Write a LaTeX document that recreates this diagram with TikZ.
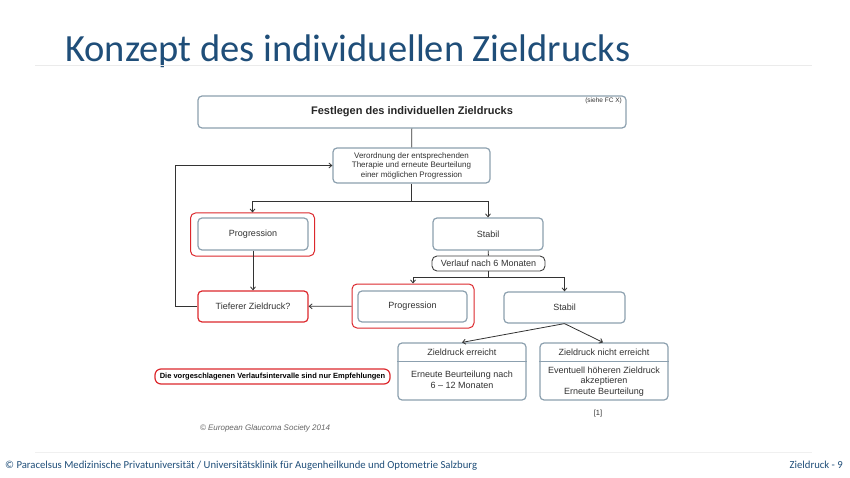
\documentclass[tikz,border=0pt]{standalone}
\usepackage{fontspec}
\setmainfont{Liberation Sans}
\newfontfamily\slidefont{Carlito}
\usetikzlibrary{arrows.meta}
\definecolor{titleblue}{RGB}{31,78,121}
\definecolor{boxgray}{RGB}{140,160,175}
\definecolor{markred}{RGB}{220,40,45}
\definecolor{txtgray}{RGB}{50,50,50}
\begin{document}
\begin{tikzpicture}[x=1pt,y=-1pt,
  box/.style={draw=boxgray, line width=1.2pt, rounded corners=4pt, align=center, text=txtgray, font=\fontsize{9}{10.5}\selectfont, inner sep=0pt},
  redbox/.style={draw=markred, line width=1pt, rounded corners=5pt, inner sep=0pt},
  plain/.style={inner sep=0pt, align=center, text=txtgray, font=\fontsize{9}{10.5}\selectfont},
  link/.style={draw=black!80, line width=0.8pt},
  arr/.style={link, -{Straight Barb[length=3pt,width=5pt]}}]
\useasboundingbox (0,0) rectangle (850,478);
\fill[white] (0,0) rectangle (850,478);
% slide frame
\node[anchor=base west, inner sep=0pt, text=titleblue, font=\slidefont\fontsize{38.5}{42}\selectfont] (title) at (65,62) {Konzept des individuellen Zieldrucks};
\draw[black!8, line width=0.8pt] (35,65) -- (812,65);
\draw[black!6, line width=0.8pt] (35,452) -- (812,452);
\node[anchor=base west, inner sep=0pt, text=titleblue, font=\slidefont\fontsize{10.7}{12}\selectfont] (foot) at (5,468) {© Paracelsus Medizinische Privatuniversität / Universitätsklinik für Augenheilkunde und Optometrie Salzburg};
\node[anchor=base east, inner sep=0pt, text=titleblue, font=\slidefont\fontsize{10.7}{12}\selectfont] (page) at (843,468) {Zieldruck - 9};
% boxes
\node[box, minimum width=428pt, minimum height=32pt, font=\bfseries\fontsize{11}{12}\selectfont, text=black!85] (top) at (412,112) {Festlegen des individuellen Zieldrucks};
\node[anchor=north east, plain, font=\fontsize{6.5}{7}\selectfont] (fc) at (622,98) {(siehe FC X)};
\node[box, minimum width=157pt, minimum height=35pt, font=\fontsize{8}{9.5}\selectfont] (ther) at (411.5,165.5) {Verordnung der entsprechenden\\Therapie und erneute Beurteilung\\einer möglichen Progression};
\node[box, minimum width=110pt, minimum height=32pt] (prog) at (253,234) {Progression};
\node[redbox, minimum width=124pt, minimum height=43pt] (progr) at (252.5,234.5) {};
\node[box, minimum width=110pt, minimum height=32pt] (stab) at (488,234) {Stabil};
\node[draw=black!75, line width=0.9pt, rounded corners=5pt, minimum width=113pt, minimum height=15pt, plain, inner sep=0pt] (six) at (488.5,263.5) {Verlauf nach 6 Monaten};
\node[box, minimum width=110pt, minimum height=31pt, draw=markred] (tief) at (253,306.5) {Tieferer Zieldruck?};
\node[box, minimum width=109pt, minimum height=31pt] (prog2) at (412.5,306.5) {Progression};
\node[redbox, minimum width=122pt, minimum height=44pt] (prog2r) at (413,306) {};
\node[box, minimum width=121pt, minimum height=31pt] (stab2) at (564.5,307.5) {Stabil};
\node[box, minimum width=128pt, minimum height=57pt] (ok) at (462,371.5) {};
\node[box, minimum width=128pt, minimum height=57pt] (nok) at (604,371.5) {};
\node[plain] (okh) at (462,352.5) {Zieldruck erreicht};
\node[plain] (nokh) at (604,352) {Zieldruck nicht erreicht};
\node[plain] (okb) at (462,380) {Erneute Beurteilung nach\\6 -- 12 Monaten};
\node[plain] (nokb) at (604,381.5) {Eventuell höheren Zieldruck\\akzeptieren\\Erneute Beurteilung};
\draw[boxgray, line width=1pt] (ok.west |- 0,361) -- (ok.east |- 0,361);
\draw[boxgray, line width=1pt] (nok.west |- 0,361) -- (nok.east |- 0,361);
\node[redbox, line width=1.2pt, rounded corners=6pt, minimum width=235pt, minimum height=15pt, text=black, font=\bfseries\fontsize{7.5}{8}\selectfont] (note) at (272.5,376.5) {Die vorgeschlagenen Verlaufsintervalle sind nur Empfehlungen};
\node[plain, text=black!60, font=\itshape\fontsize{8}{9}\selectfont] (egs) at (265,428) {© European Glaucoma Society 2014};
\node[plain, font=\fontsize{7.5}{8}\selectfont] (ref) at (598,414) {[1]};
% connectors
\draw[link] (top) -- (ther);
\draw[link] (ther.south) -- ++(0,18) coordinate (split1);
\draw[arr] (split1) -| (progr.north);
\draw[arr] (split1) -| (stab.north);
\draw[link] (stab) -- (six);
\draw[link] (six.south) -- ++(0,6) coordinate (split2);
\draw[arr] (split2) -| (prog2r.north);
\draw[arr] (split2) -| (stab2.north);
\draw[arr] (prog) -- (tief);
\draw[arr] (prog2r) -- (tief);
\draw[arr] (tief.west) -- ++(-22,0) |- (ther.west);
\draw[arr] (stab2.south) -- (ok.north);
\draw[arr] (stab2.south) -- ([xshift=-1pt]nok.north);
\end{tikzpicture}
\end{document}
